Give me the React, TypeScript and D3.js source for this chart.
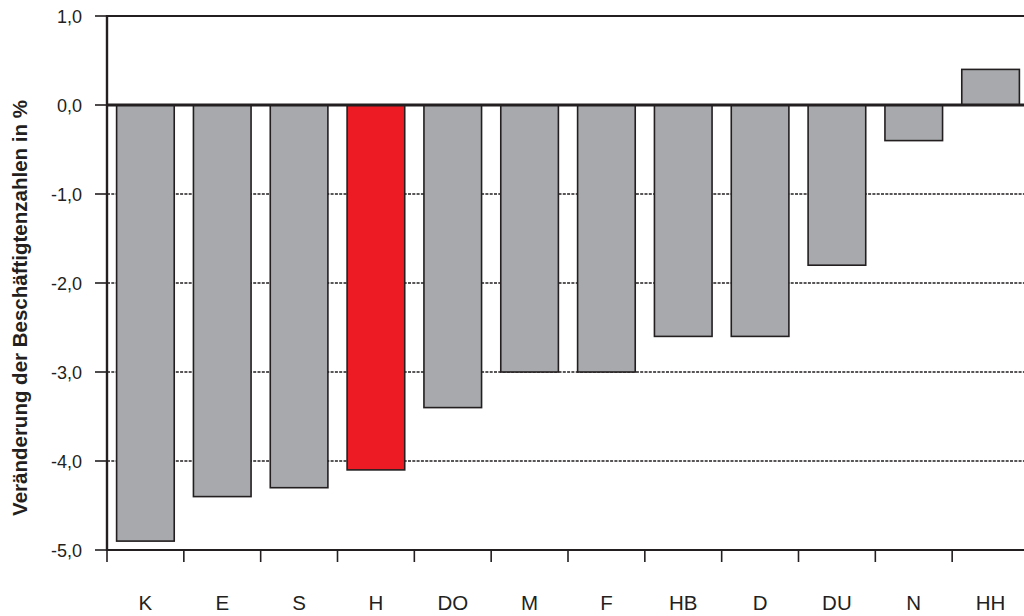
import React, { useRef, useEffect } from 'react';
import { select, scaleBand, scaleLinear } from 'd3';

const categories = ['K', 'E', 'S', 'H', 'DO', 'M', 'F', 'HB', 'D', 'DU', 'N', 'HH'];
const values = [-4.9, -4.4, -4.3, -4.1, -3.4, -3.0, -3.0, -2.6, -2.6, -1.8, -0.4, 0.4];
const highlight = ['H'];
const yTicks = [1, 0, -1, -2, -3, -4, -5];
const gridTicks = [-1, -2, -3, -4];

const W = 1024;
const H = 616;
const margin = { top: 16, left: 107, bottom: 66 };
const plotRight = 1029;
const ink = '#231f20';
const font = '"Liberation Sans", Arial, sans-serif';

const App: React.FC = () => {
  const svgRef = useRef<SVGSVGElement>(null);

  useEffect(() => {
    const svg = select(svgRef.current as any);
    svg.selectAll('*').remove();

    const y = scaleLinear().domain([-5, 1]).range([H - margin.bottom, margin.top]);
    const x = scaleBand()
      .domain(categories)
      .range([margin.left, plotRight])
      .paddingInner(0.25)
      .paddingOuter(0.125);
    const step = x.step();

    // dotted gridlines
    svg
      .selectAll('.grid')
      .data(gridTicks)
      .join('line')
      .attr('class', 'grid')
      .attr('x1', margin.left)
      .attr('x2', W)
      .attr('y1', d => y(d))
      .attr('y2', d => y(d))
      .attr('stroke', ink)
      .attr('stroke-width', 1.7)
      .attr('stroke-dasharray', '3,1.3');

    // top border at 1,0
    svg
      .append('line')
      .attr('x1', margin.left)
      .attr('x2', W)
      .attr('y1', y(1))
      .attr('y2', y(1))
      .attr('stroke', ink)
      .attr('stroke-width', 2);

    // bars
    svg
      .selectAll('.bar')
      .data(values)
      .join('rect')
      .attr('class', 'bar')
      .attr('x', (_, i) => x(categories[i]) as number)
      .attr('width', x.bandwidth())
      .attr('y', d => y(Math.max(0, d)))
      .attr('height', d => Math.abs(y(d) - y(0)))
      .attr('fill', (_, i) => (highlight.includes(categories[i]) ? '#ed1c24' : '#a7a9ac'))
      .attr('stroke', ink)
      .attr('stroke-width', 1.6);

    // zero line
    svg
      .append('line')
      .attr('x1', margin.left)
      .attr('x2', W)
      .attr('y1', y(0))
      .attr('y2', y(0))
      .attr('stroke', ink)
      .attr('stroke-width', 3);

    // bottom axis line
    svg
      .append('line')
      .attr('x1', margin.left)
      .attr('x2', W)
      .attr('y1', y(-5))
      .attr('y2', y(-5))
      .attr('stroke', ink)
      .attr('stroke-width', 2);

    // left axis line
    svg
      .append('line')
      .attr('x1', margin.left)
      .attr('x2', margin.left)
      .attr('y1', y(1) - 1)
      .attr('y2', y(-5) + 1)
      .attr('stroke', ink)
      .attr('stroke-width', 2.4);

    // y ticks + labels
    svg
      .selectAll('.ytick')
      .data(yTicks)
      .join('line')
      .attr('class', 'ytick')
      .attr('x1', margin.left - 12)
      .attr('x2', margin.left)
      .attr('y1', d => y(d))
      .attr('y2', d => y(d))
      .attr('stroke', ink)
      .attr('stroke-width', 1.6);

    svg
      .selectAll('.ylabel')
      .data(yTicks)
      .join('text')
      .attr('class', 'ylabel')
      .attr('x', 82)
      .attr('y', d => y(d) + 6.5)
      .attr('text-anchor', 'end')
      .style('font-family', font)
      .style('font-size', '18px')
      .style('fill', ink)
      .text(d => d.toFixed(1).replace('.', ','));

    // x ticks at band boundaries
    svg
      .selectAll('.xtick')
      .data(categories)
      .join('line')
      .attr('class', 'xtick')
      .attr('x1', (_, i) => margin.left + i * step)
      .attr('x2', (_, i) => margin.left + i * step)
      .attr('y1', y(-5))
      .attr('y2', y(-5) + 12)
      .attr('stroke', ink)
      .attr('stroke-width', 1.6);

    svg
      .selectAll('.xlabel')
      .data(categories)
      .join('text')
      .attr('class', 'xlabel')
      .attr('x', d => (x(d) as number) + x.bandwidth() / 2)
      .attr('y', 610)
      .attr('text-anchor', 'middle')
      .style('font-family', font)
      .style('font-size', '20.5px')
      .style('fill', ink)
      .text(d => d);

    // y axis title
    svg
      .append('text')
      .attr('transform', `translate(27, 308) rotate(-90)`)
      .attr('text-anchor', 'middle')
      .style('font-family', font)
      .style('font-size', '20.5px')
      .style('font-weight', 'bold')
      .style('fill', ink)
      .text('Veränderung der Beschäftigtenzahlen in %');
  }, []);

  return (
    <svg
      ref={svgRef}
      width={W}
      height={H}
      style={{ position: 'absolute', left: 0, top: 0, background: '#fff' }}
    ></svg>
  );
};

export default App;
